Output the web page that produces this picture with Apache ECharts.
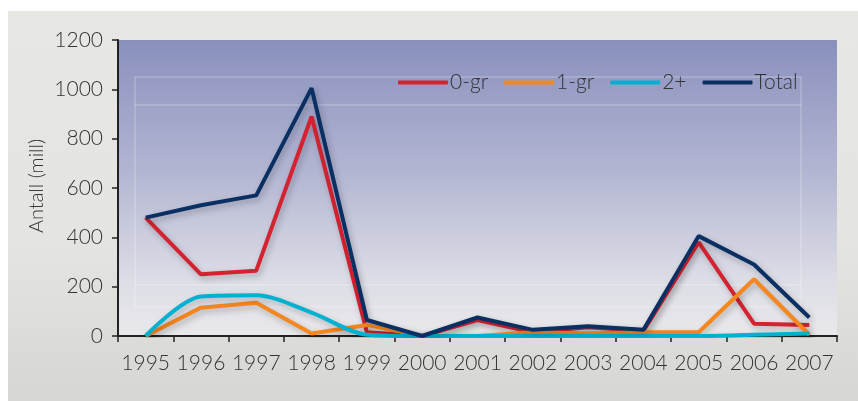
<!DOCTYPE html>
<html><head><meta charset="utf-8">
<script src="https://cdn.jsdelivr.net/npm/echarts@6/dist/echarts.min.js"></script>
<style>html,body{margin:0;padding:0;background:#fff}#c{width:858px;height:401px}</style>
</head><body><div id="c"></div>
<script>
const years = ['1995','1996','1997','1998','1999','2000','2001','2002','2003','2004','2005','2006','2007'];
const gr0 = [480, 250, 265, 890, 15, 0, 65, 15, 35, 20, 380, 50, 45];
const gr1 = [0, 115, 135, 10, 45, 0, 0, 15, 10, 15, 15, 230, 5];
const gr2 = [0, 160, 165, 95, 5, 0, 0, 0, 0, 0, 0, 5, 10];
const total = [480, 530, 570, 1005, 65, 0, 75, 25, 40, 25, 405, 290, 75];
const yTicks = [0, 200, 400, 600, 800, 1000, 1200];

const FONT = 'Lato';
const chart = echarts.init(document.getElementById('c'), null, {renderer: 'canvas'});
function ser(name, data, color, smooth) {
  return {name, type: 'line', data, symbol: 'none', smooth: smooth || false,
    lineStyle: {color, width: 4, shadowColor: 'rgba(0,0,0,0.25)', shadowBlur: 6, shadowOffsetX: 2, shadowOffsetY: 3},
    itemStyle: {color}};
}
chart.setOption({
  animation: false,
  textStyle: {fontFamily: FONT},
  graphic: [
    {type: 'rect', z: -10, shape: {x: 8, y: 11, width: 850, height: 390},
     style: {fill: new echarts.graphic.LinearGradient(0, 0, 0, 1, [
       {offset: 0, color: '#e7e7e3'}, {offset: 0.6, color: '#e4e4e0'}, {offset: 1, color: '#d6d6d2'}])}},
    {type: 'rect', z: -9, shape: {x: 118, y: 40, width: 719, height: 296},
     style: {fill: new echarts.graphic.LinearGradient(0, 0, 0, 1, [
       {offset: 0, color: '#8990bd'}, {offset: 0.45, color: '#b3b6d2'}, {offset: 0.8, color: '#dcdce6'}, {offset: 1, color: '#e9e9ec'}])}},
    {type: 'rect', z: -8, shape: {x: 135, y: 77, width: 666, height: 230},
     style: {fill: 'none', stroke: 'rgba(255,255,255,0.35)', lineWidth: 1}},
    {type: 'line', z: -8, shape: {x1: 135, y1: 105, x2: 801, y2: 105},
     style: {stroke: 'rgba(255,255,255,0.35)', lineWidth: 1}},
    {type: 'line', z: -8, shape: {x1: 135, y1: 285, x2: 801, y2: 285},
     style: {stroke: 'rgba(255,255,255,0.4)', lineWidth: 1}},
    {type: 'text', x: 37, y: 186, rotation: Math.PI / 2,
     style: {text: 'Antall (mill)', fontFamily: FONT, fontSize: 20, fontWeight: 300, fill: '#333', align: 'center', verticalAlign: 'middle'}}
  ],
  legend: {
    left: 393, top: 67, itemWidth: 50, itemHeight: 4, itemGap: 16,
    icon: 'roundRect',
    textStyle: {fontFamily: FONT, fontSize: 21, fontWeight: 300, color: '#333', padding: [0, 0, 0, -3]},
    data: ['0-gr', '1-gr', '2+', 'Total']
  },
  grid: {left: 118, right: 21, top: 40, bottom: 65},
  xAxis: {
    type: 'category', data: years, boundaryGap: true,
    axisLine: {lineStyle: {color: '#222', width: 2}},
    axisTick: {show: true, length: 6, interval: 0, lineStyle: {color: '#222', width: 1.5}},
    axisLabel: {interval: 0, fontFamily: FONT, fontSize: 21, fontWeight: 300, color: '#333', margin: 17}
  },
  yAxis: {
    type: 'value', min: yTicks[0], max: yTicks[yTicks.length - 1], interval: 200,
    axisLine: {show: true, lineStyle: {color: '#222', width: 2}},
    axisTick: {show: true, length: 6, lineStyle: {color: '#222', width: 1.5}},
    splitLine: {show: false},
    axisLabel: {formatter: v => String(v), fontFamily: FONT, fontSize: 21, fontWeight: 300, color: '#333', margin: 15}
  },
  series: [
    ser('0-gr', gr0, '#d42230'),
    ser('1-gr', gr1, '#f5871f'),
    ser('2+', gr2, '#00b1d0', 0.3),
    ser('Total', total, '#0a2f63')
  ]
});
</script></body></html>
